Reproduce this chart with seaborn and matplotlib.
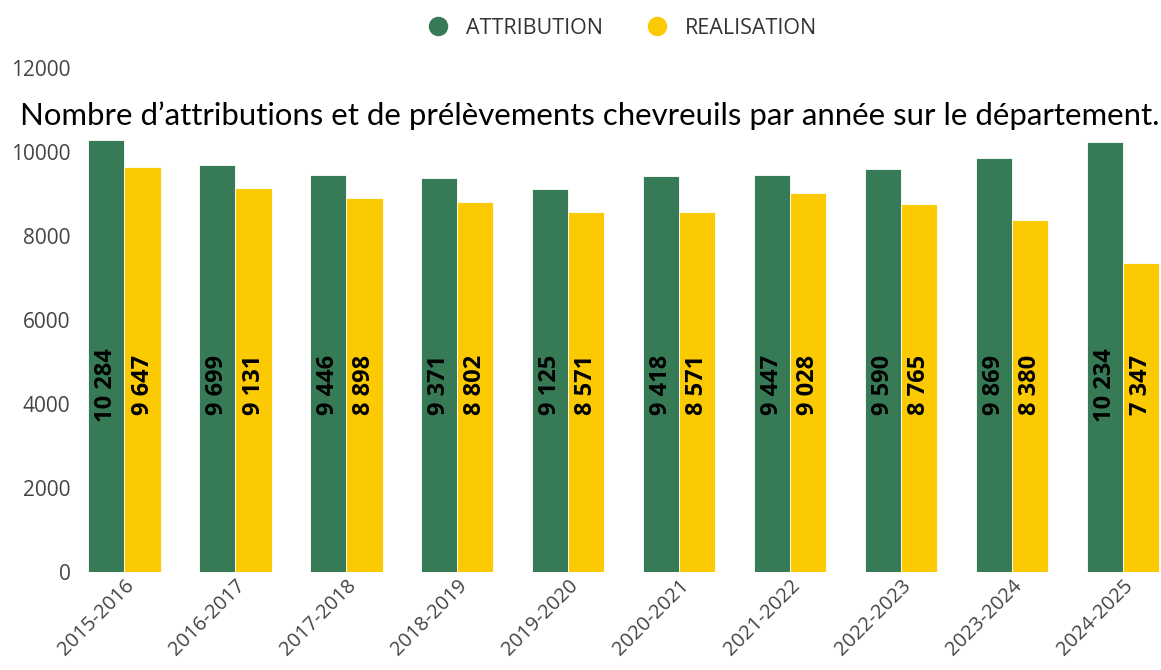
import pandas as pd
import matplotlib
matplotlib.use("Agg")
import matplotlib.pyplot as plt
import seaborn as sns

saisons = ['2015-2016', '2016-2017', '2017-2018', '2018-2019', '2019-2020',
           '2020-2021', '2021-2022', '2022-2023', '2023-2024', '2024-2025']
attribution = [10284, 9699, 9446, 9371, 9125, 9418, 9447, 9590, 9869, 10234]
realisation = [9647, 9131, 8898, 8802, 8571, 8571, 9028, 8765, 8380, 7347]
series = ['ATTRIBUTION', 'REALISATION']
colors = ['#377a56', '#fcca02']
y_ticks = [0, 2000, 4000, 6000, 8000, 10000, 12000]

df = pd.DataFrame({
    'saison': saisons * 2,
    'serie': [series[0]] * len(saisons) + [series[1]] * len(saisons),
    'valeur': attribution + realisation,
})

sns.set_theme(style='white')
plt.rcParams['font.family'] = ['Open Sans', 'DejaVu Sans']

fig = plt.figure(figsize=(11.61, 6.7), dpi=100)
ax = fig.add_axes([0.069, 0.1463, 0.931, 0.7522])

sns.barplot(data=df, x='saison', y='valeur', hue='serie', palette=colors,
            saturation=1, width=0.65, edgecolor='white', linewidth=0.6,
            ax=ax, legend=False)

ax.set_ylim(0, 12000)
ax.set_xlim(-0.40, 9.34)
ax.set_yticks(y_ticks)
ax.set_yticklabels([str(v) for v in y_ticks])
ax.set_xlabel('')
ax.set_ylabel('')
for s in ax.spines.values():
    s.set_visible(False)
ax.tick_params(axis='both', length=0, colors='#444444')
ax.tick_params(axis='y', pad=7, labelsize=15)
ax.tick_params(axis='x', pad=3, labelsize=14.5)
plt.setp(ax.get_xticklabels(), rotation=45, ha='right', rotation_mode='anchor')

# valeurs au milieu des barres
for cont in ax.containers:
    for bar in cont:
        h = bar.get_height()
        txt = f'{int(h):,}'.replace(',', ' ')
        ax.text(bar.get_x() + bar.get_width() / 2, 4450, txt, rotation=90,
                ha='center', va='center', fontsize=17, fontweight='bold',
                color='black')

handles = [plt.Line2D([], [], marker='o', linestyle='', markersize=13,
                      markerfacecolor=c, markeredgecolor=c) for c in colors]
fig.legend(handles, series, loc='center', bbox_to_anchor=(0.531, 0.958), ncol=2,
           frameon=False, fontsize=15.5, handletextpad=0.3, columnspacing=1.5,
           labelcolor='#333333')

fig.text(0.017, 0.828, "Nombre d\u2019attributions et de pr\u00e9l\u00e8vements chevreuils par ann\u00e9e sur le d\u00e9partement.",
         ha='left', va='center', fontsize=22.4,
         family=['Lato', 'DejaVu Sans'], color='black')

fig.savefig('out.png', dpi=100)
